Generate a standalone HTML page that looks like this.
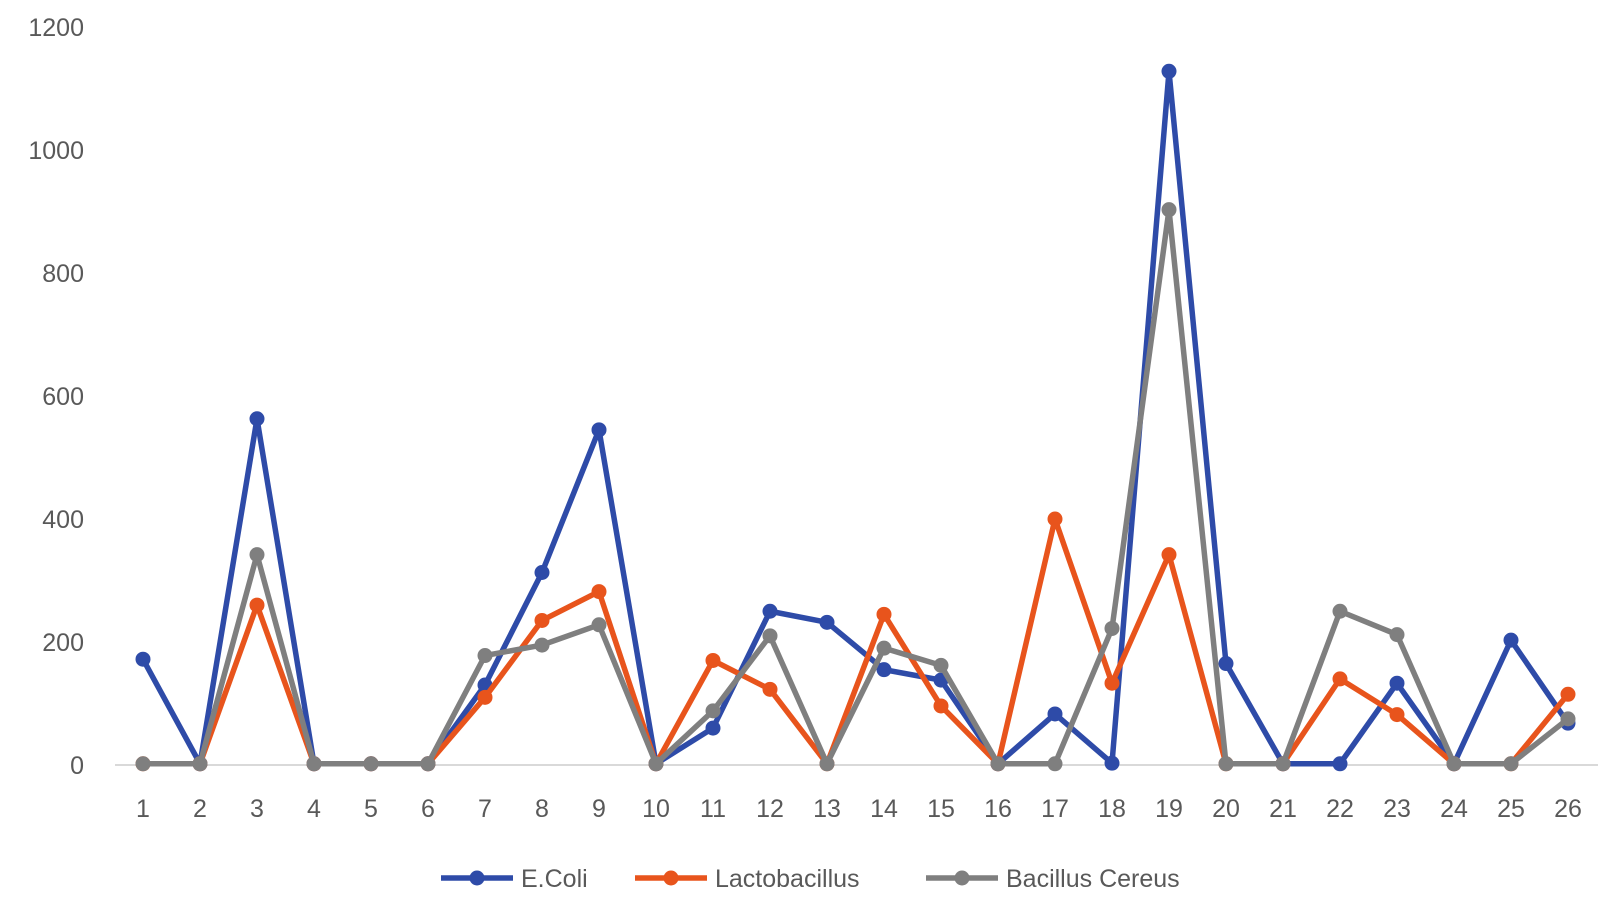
<!DOCTYPE html>
<html><head><meta charset="utf-8"><style>
body{margin:0;background:#fff;}
svg text{font-family:"Liberation Sans",sans-serif;fill:#595959;}
</style></head><body>
<svg id="chart" width="1614" height="906" xmlns="http://www.w3.org/2000/svg">
<g id="axes"></g>
<g id="series"></g>
<g id="legend"></g>
</svg>
<script>
const categories = ["1","2","3","4","5","6","7","8","9","10","11","12","13","14","15","16","17","18","19","20","21","22","23","24","25","26"];
const yTicks = [0,200,400,600,800,1000,1200];
const seriesNames = ["E.Coli","Lactobacillus","Bacillus Cereus"];
const ecoli = [172,2,563,2,2,2,130,313,545,2,60,250,232,155,138,2,83,3,1128,165,2,2,133,2,203,68];
const lacto = [2,2,260,2,2,2,110,235,282,2,170,123,2,245,96,2,400,133,342,2,2,140,82,2,2,115];
const bacillus = [2,2,342,2,2,2,178,195,228,2,88,210,2,190,162,2,2,222,903,2,2,250,212,2,2,75];
const colors = ["#2E4BA8","#E8541C","#7F7F7F"];
const NS="http://www.w3.org/2000/svg";
const x0=143, x1=1568, yBase=765, yTop=27;
function xs(i){return x0+(x1-x0)*i/(categories.length-1);}
function ys(v){return yBase-(yBase-yTop)*v/1200;}
function mk(tag,attrs,parent){const e=document.createElementNS(NS,tag);for(const k in attrs)e.setAttribute(k,attrs[k]);parent.appendChild(e);return e;}
const axes=document.getElementById('axes');
const base=mk('line',{x1:115,x2:1598,y1:yBase,y2:yBase,stroke:'#D9D9D9','stroke-width':2},axes);


yTicks.forEach(t=>{
  const e=mk('text',{x:84,y:ys(t)+9,'text-anchor':'end','font-size':25},axes);
  e.textContent=t;
  
  
});
categories.forEach((c,i)=>{
  const e=mk('text',{x:xs(i),y:817,'text-anchor':'middle','font-size':25},axes);
  e.textContent=c;
  
  
});
const sg=document.getElementById('series');
[ecoli,lacto,bacillus].forEach((d,s)=>{
  const g=mk('g',{},sg);
  
  
  const p=mk('polyline',{points:d.map((v,i)=>xs(i)+','+ys(v)).join(' '),fill:'none',stroke:colors[s],'stroke-width':5.5,'stroke-linejoin':'round'},g);
  
  
  d.forEach((v,i)=>{
    const c=mk('circle',{cx:xs(i),cy:ys(v),r:7.5,fill:colors[s]},g);
    
    
  });
});
const lg=document.getElementById('legend');
const lx=[441,635,926];
seriesNames.forEach((n,s)=>{
  const g=mk('g',{},lg);
  
  
  mk('line',{x1:lx[s],x2:lx[s]+72,y1:878,y2:878,stroke:colors[s],'stroke-width':5.5},g);
  mk('circle',{cx:lx[s]+36,cy:878,r:7.5,fill:colors[s]},g);
  const t=mk('text',{x:lx[s]+80,y:887,'font-size':25},g);
  t.textContent=n;
});
</script>
</body></html>
